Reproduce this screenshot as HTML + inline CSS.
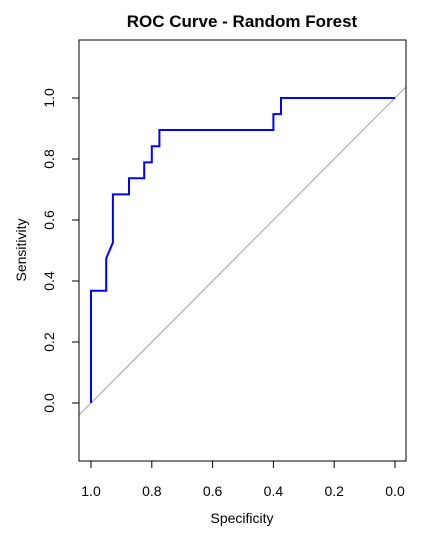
<!DOCTYPE html>
<html><head><meta charset="utf-8"><style>
body{margin:0;background:#fff;}
svg text{font-family:"Liberation Sans",sans-serif;fill:#000;}
</style></head><body>
<svg id="c" width="447" height="538" xmlns="http://www.w3.org/2000/svg"></svg>
<script>
const specificity=[1.0,1.0,0.95,0.95,0.928,0.928,0.875,0.875,0.825,0.825,0.80,0.80,0.775,0.775,0.40,0.40,0.375,0.375,0.0];
const sensitivity=[0.0,0.368,0.368,0.474,0.526,0.684,0.684,0.737,0.737,0.789,0.789,0.842,0.842,0.895,0.895,0.947,0.947,1.0,1.0];
const xTicks=[1.0,0.8,0.6,0.4,0.2,0.0];
const xTickLabels=["1.0","0.8","0.6","0.4","0.2","0.0"];
const yTicks=[0.0,0.2,0.4,0.6,0.8,1.0];
const yTickLabels=["0.0","0.2","0.4","0.6","0.8","1.0"];
const NS="http://www.w3.org/2000/svg";
const svg=document.getElementById('c');
const X=v=>395-v*304;
const Y=v=>403-v*305;
function mk(t,a,p){const e=document.createElementNS(NS,t);for(const k in a)e.setAttribute(k,a[k]);(p||svg).appendChild(e);return e;}
const L=79,R=406,T=40,B=461;
const cpEl=mk('clipPath',{id:'cp'});
mk('rect',{x:L,y:T,width:R-L,height:B-T},cpEl);
const diag=mk('line',{x1:X(1.2),y1:Y(-0.2),x2:X(-0.2),y2:Y(1.2),stroke:'#a0a0a0','stroke-width':1,'clip-path':'url(#cp)'});


const box=mk('rect',{x:L,y:T,width:R-L,height:B-T,fill:'none',stroke:'#000','stroke-width':1});


const pts=specificity.map((s,i)=>X(s)+','+Y(sensitivity[i])).join(' ');
const roc=mk('polyline',{points:pts,fill:'none',stroke:'#0000ff','stroke-width':2});


const xa=mk('g',{});


mk('line',{x1:X(1),x2:X(0),y1:B,y2:B,stroke:'#000'},xa);
xTicks.forEach((v,i)=>{
 mk('line',{x1:X(v),x2:X(v),y1:B,y2:B+7,stroke:'#000'},xa);
 const t=mk('text',{x:X(v),y:B+35,'text-anchor':'middle','font-size':14},xa);t.textContent=xTickLabels[i];
 
 
});
const ya=mk('g',{});


mk('line',{x1:L,x2:L,y1:Y(0),y2:Y(1),stroke:'#000'},ya);
yTicks.forEach((v,i)=>{
 mk('line',{x1:L-7,x2:L,y1:Y(v),y2:Y(v),stroke:'#000'},ya);
 const t=mk('text',{x:54,y:Y(v),'text-anchor':'middle','font-size':14,transform:`rotate(-90 54 ${Y(v)})`},ya);t.textContent=yTickLabels[i];
 
 
});
const tt=mk('text',{x:242,y:27,'text-anchor':'middle','font-size':17,'font-weight':'bold'});tt.textContent='ROC Curve - Random Forest';


const xt=mk('text',{x:242,y:523,'text-anchor':'middle','font-size':14});xt.textContent='Specificity';


const yt=mk('text',{x:26,y:250,'text-anchor':'middle','font-size':14,transform:'rotate(-90 26 250)'});yt.textContent='Sensitivity';


</script>
</body></html>
